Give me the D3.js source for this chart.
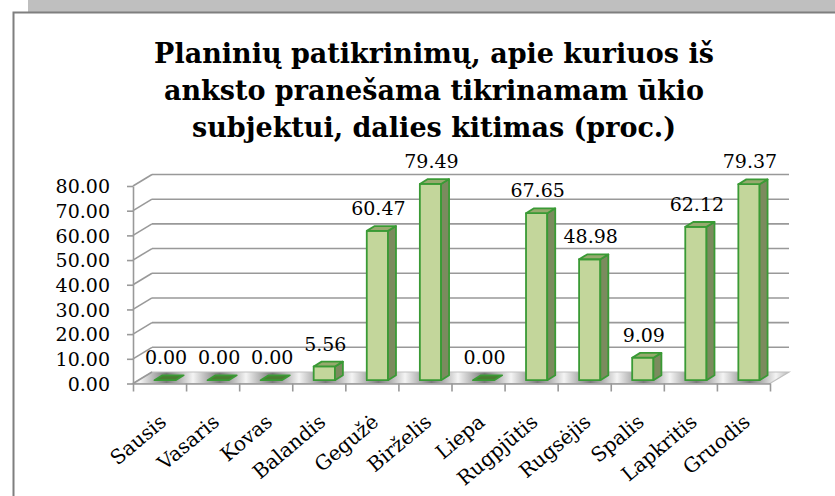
<!DOCTYPE html>
<html>
<head>
<meta charset="utf-8">
<script src="https://cdn.jsdelivr.net/npm/d3@7"></script>
<style>
  body { margin: 0; background: #fff; }
  svg text { font-family: "DejaVu Serif", serif; fill: #000; }
</style>
</head>
<body>
<div id="chart"></div>
<script>
// data
var months = ["Sausis", "Vasaris", "Kovas", "Balandis", "Gegužė", "Birželis",
              "Liepa", "Rugpjūtis", "Rugsėjis", "Spalis", "Lapkritis", "Gruodis"];
var values = [0.00, 0.00, 0.00, 5.56, 60.47, 79.49, 0.00, 67.65, 48.98, 9.09, 62.12, 79.37];
var yTicks = [0, 10, 20, 30, 40, 50, 60, 70, 80];
var titleLines = ["Planinių patikrinimų, apie kuriuos iš",
                  "anksto pranešama tikrinamam ūkio",
                  "subjektui, dalies kitimas (proc.)"];

var W = 835, H = 496;
var depthX = 19, depthY = -11.5;   // 3d offset of the back wall
var z0 = 0.29, z1 = 0.71;          // bar depth range
var fmt = d3.format(".2f");

var svg = d3.select("#chart").append("svg")
    .attr("width", W)
    .attr("height", H);

// frame
svg.append("rect").attr("x", 28).attr("y", 0).attr("width", W - 28).attr("height", 12).attr("fill", "#bfbfbf");
svg.append("path")
    .attr("d", "M13.5," + H + "V12.5H" + W)
    .attr("fill", "none").attr("stroke", "#7f7f7f").attr("stroke-width", 2);

// title
svg.append("g").selectAll("text")
    .data(titleLines)
    .enter().append("text")
    .attr("x", 434)
    .attr("y", function(d, i) { return 63 + i * 37; })
    .attr("text-anchor", "middle")
    .attr("font-weight", "bold")
    .attr("font-size", 27)
    .text(function(d) { return d; });

var x = d3.scaleBand().domain(months).range([133, 770]);
var xi = d3.scaleLinear().domain([0, months.length]).range([133, 770]);
var y = d3.scaleLinear().domain([0, 80]).range([383.5, 186]);

// gradient for the floor
var defs = svg.append("defs");
var grad = defs.append("linearGradient")
    .attr("id", "floorGrad")
    .attr("gradientUnits", "userSpaceOnUse")
    .attr("x1", 140).attr("y1", 0).attr("x2", 166.5).attr("y2", 0)
    .attr("spreadMethod", "reflect");
grad.append("stop").attr("offset", "0%").attr("stop-color", "#f4f4f4");
grad.append("stop").attr("offset", "100%").attr("stop-color", "#7a7a7a");

// floor
svg.append("polygon")
    .attr("points", [[xi(0), y(0)], [xi(12), y(0)], [xi(12) + depthX, y(0) + depthY], [xi(0) + depthX, y(0) + depthY]].join(" "))
    .attr("fill", "url(#floorGrad)")
    .attr("stroke", "#bfbfbf")
    .attr("stroke-width", 1.2);

// back wall gridlines + side wall diagonals
var grid = svg.append("g");
grid.selectAll(".back")
    .data(yTicks.slice(1))
    .enter().append("line")
    .attr("x1", xi(0) + depthX).attr("x2", xi(12) + depthX)
    .attr("y1", function(d) { return y(d) + depthY; })
    .attr("y2", function(d) { return y(d) + depthY; })
    .attr("stroke", "#999").attr("stroke-width", 1.6);
grid.selectAll(".side")
    .data(yTicks)
    .enter().append("line")
    .attr("x1", xi(0)).attr("x2", xi(0) + depthX)
    .attr("y1", function(d) { return y(d); })
    .attr("y2", function(d) { return y(d) + depthY; })
    .attr("stroke", "#999").attr("stroke-width", 1.6);

// y axis
var yAxis = svg.append("g")
    .attr("transform", "translate(" + xi(0) + ",0)")
    .call(d3.axisLeft(y).tickValues(yTicks).tickFormat(fmt).tickSize(6).tickSizeOuter(0));
yAxis.attr("font-family", null).attr("font-size", 19);
yAxis.select(".domain").attr("stroke", "#999").attr("stroke-width", 1.6);
yAxis.selectAll(".tick line").attr("stroke", "#999").attr("stroke-width", 1.6);
yAxis.selectAll(".tick text")
    .attr("x", -23)
    .attr("dy", "0.36em")
    .attr("fill", "#000");

// x axis
var xAxis = svg.append("g")
    .attr("transform", "translate(0," + y(0) + ")")
    .call(d3.axisBottom(xi).tickValues(d3.range(13)).tickFormat("").tickSize(8).tickSizeOuter(0));
xAxis.select(".domain").attr("stroke", "#999").attr("stroke-width", 1.6);
xAxis.selectAll(".tick line").attr("stroke", "#999").attr("stroke-width", 1.6);

svg.append("g").selectAll("text")
    .data(months)
    .enter().append("text")
    .attr("transform", function(d) {
        return "translate(" + (x(d) + x.bandwidth() / 2 + 8) + "," + 424 + ") rotate(-40)";
    })
    .attr("text-anchor", "end")
    .attr("font-size", 20)
    .text(function(d) { return d; });

// bars
var barW = x.bandwidth() * 0.4;
function pt(px, v, z) {
    return [px + z * depthX, y(v) + z * depthY];
}
var bars = svg.append("g").selectAll("g")
    .data(values)
    .enter().append("g");

bars.each(function(v, i) {
    var g = d3.select(this);
    var cx = x(months[i]) + x.bandwidth() / 2;
    var l = cx - barW / 2, r = cx + barW / 2;
    var front = [pt(l, 0, z0), pt(r, 0, z0), pt(r, v, z0), pt(l, v, z0)];
    var side = [pt(r, 0, z0), pt(r, 0, z1), pt(r, v, z1), pt(r, v, z0)];
    var top = [pt(l, v, z0), pt(r, v, z0), pt(r, v, z1), pt(l, v, z1)];
    if (v > 0) {
        g.append("polygon").attr("points", front.join(" ")).attr("fill", "#c3d69b");
        g.append("polygon").attr("points", side.join(" ")).attr("fill", "#7b8b5e");
    }
    g.append("polygon").attr("points", top.join(" ")).attr("fill", v > 0 ? "#97aa6e" : "#4b7d33");
    g.selectAll("polygon")
        .attr("stroke", "#3a9a35")
        .attr("stroke-width", 1.8)
        .attr("stroke-linejoin", "round");
});

// data labels
svg.append("g").selectAll("text")
    .data(values)
    .enter().append("text")
    .attr("x", function(v, i) { return x(months[i]) + x.bandwidth() / 2 + 6.5; })
    .attr("y", function(v) { return y(v) + z1 * depthY - 11; })
    .attr("text-anchor", "middle")
    .attr("font-size", 19)
    .text(function(v) { return fmt(v); });
</script>
</body>
</html>
